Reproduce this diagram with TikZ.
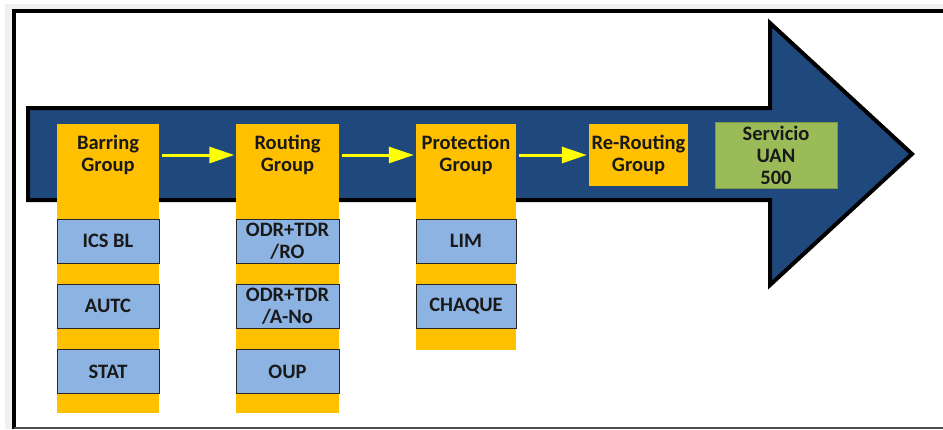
\documentclass[tikz,border=0pt]{standalone}
\usepackage{fontspec}
\setmainfont{Carlito}
\usepackage{tikz}
\usetikzlibrary{arrows.meta,positioning}
\usepackage{xcolor}
\definecolor{flowblue}{HTML}{1F497D}
\definecolor{groupgold}{HTML}{FFC000}
\definecolor{itemblue}{HTML}{8DB3E2}
\definecolor{servgreen}{HTML}{9BBB59}
\definecolor{stepyellow}{HTML}{FFFF00}

\tikzset{
  groupbox/.style={fill=groupgold,minimum width=102pt,minimum height=62pt,inner sep=0pt,
    align=center,font=\fontsize{20.5}{22}\selectfont\bfseries,text=black!90},
  itembox/.style={draw=black!85,line width=1pt,fill=itemblue,minimum width=102pt,minimum height=44pt,
    inner sep=0pt,align=center,font=\fontsize{20.5}{22}\selectfont\bfseries,text=black!90},
  stepline/.style={draw=stepyellow,line width=3pt,-{Triangle[length=25pt,width=16pt]},
    shorten <=3pt,shorten >=2pt}
}

\begin{document}
\begin{tikzpicture}[x=1pt,y=-1pt]
\useasboundingbox (0,0) rectangle (943,429);
% frame with soft shadow
\fill[black!6] (5,4) rectangle (943,429);
\fill[white] (14,11) rectangle (943,428);
\draw[line width=4pt] (14,429) -- (14,11) -- (943,11);
\draw[black!70,line width=1.2pt] (14,428) -- (943,428);
% big flow arrow
\draw[line width=4pt,fill=flowblue,line join=miter]
  (28,108) -- (770,108) -- (770,23) -- (912,154) -- (770,285) -- (770,200) -- (28,200) -- cycle;
% gold columns behind the items
\fill[groupgold] (57,124) rectangle (159,413);
\fill[groupgold] (236,124) rectangle (339,413);
\fill[groupgold] (416,124) rectangle (516,350);
% group heads
\node[groupbox] (barring) at (108,155) {Barring\\Group};
\node[groupbox] (routing) at (287.5,155) {Routing\\Group};
\node[groupbox,minimum width=100pt] (protection) at (466,155) {Protection\\Group};
\node[groupbox,minimum width=99pt] (rerouting) at (638.5,155) {Re-Routing\\Group};
\node[groupbox,fill=servgreen,draw=servgreen!80!black,minimum width=122pt,minimum height=66pt] (servicio) at (776,155) {Servicio\\UAN\\500};
% items
\node[itembox] (icsbl) at (108,241) {ICS BL};
\node[itembox] (autc) at (108,306) {AUTC};
\node[itembox] (stat) at (108,371.5) {STAT};
\node[itembox,minimum width=103pt] (odrro) at (287.5,241) {ODR+TDR\\/RO};
\node[itembox,minimum width=103pt] (odrano) at (287.5,306) {ODR+TDR\\/A-No};
\node[itembox,minimum width=103pt] (oup) at (287.5,371.5) {OUP};
\node[itembox,minimum width=100pt] (lim) at (466,241) {LIM};
\node[itembox,minimum width=100pt] (chaque) at (466,306) {CHAQUE};
% yellow steps
\draw[stepline] (barring) -- (routing);
\draw[stepline] (routing) -- (protection);
\draw[stepline] (protection) -- (rerouting);
\end{tikzpicture}
\end{document}
